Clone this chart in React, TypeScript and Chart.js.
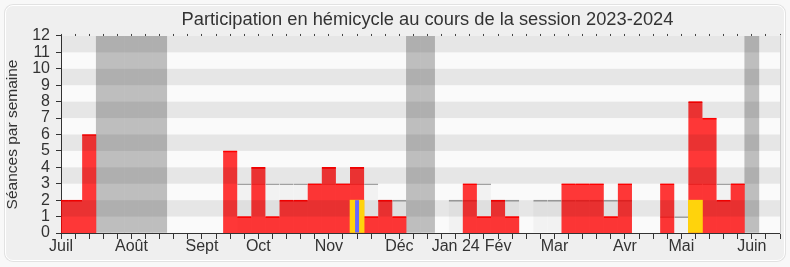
import React, { useEffect, useRef } from 'react';
import { Chart, registerables } from 'chart.js';

Chart.register(...registerables);

// ---- Data (52 weeks, July 2023 -> June 2024) ----
const monthLabels = ['Juil', 'Août', 'Sept', 'Oct', 'Nov', 'Déc', 'Jan 24', 'Fév', 'Mar', 'Avr', 'Mai', 'Juin'];
const monthWeekIndex = [0, 5, 10, 14, 19, 24, 28, 31, 35, 40, 44, 49];
const weekCount = 52;

// Séances en hémicycle par semaine (red)
const seancesHemicycle = [
  2, 2, 6, 0, 0, 0, 0, 0, 0, 0, 0, 0, 5, 1, 4, 1, 2, 2, 3, 4, 3, 4, 1, 2, 1, 0,
  0, 0, 0, 3, 1, 2, 1, 0, 0, 0, 3, 3, 3, 1, 3, 0, 0, 3, 0, 8, 7, 2, 3, 0, 0, 0,
];

// Médiane des députés (grey line)
const medianeDeputes = [
  null, null, null, null, null, null, null, null, null, null, null, null, null,
  3, 3, 3, 3, 3, 3, 3, 3, 3, 3, 2, 2, null, null, null,
  2, 2, 3, 2, 2, null, 2, 2, 2, 2, 2, 2, 2, null, null, 1, 1, 3, 3, 3, 3,
  null, null, null,
];

// Interventions (yellow)
const interventionWeeks = [21, 45];
const interventionValues = [2, 2];

// Questions orales (blue)
const questionWeeks = [21];
const questionValues = [2];

// Vacances parlementaires (grey columns)
const vacationWeeks = [3, 4, 5, 6, 7, 25, 26, 49];
const yMax = 12;

const FONT = '"Liberation Sans", Arial, sans-serif';
const TEXT = '#333333';

const weekLabels = Array.from({ length: weekCount }, (_, i) => {
  const k = monthWeekIndex.indexOf(i);
  return k >= 0 ? monthLabels[k] : '';
});

const sparse = (weeks: number[], values: number[]) =>
  weekLabels.map((_, i) => {
    const k = weeks.indexOf(i);
    return k >= 0 ? values[k] : null;
  });

const YELLOW_INDEX = 4;
const TITLE_CENTER_X = 427.5;

const bandsPlugin = {
  id: 'bands',
  afterLayout(chart: any) {
    const t = chart.titleBlock;
    if (t) {
      const d = TITLE_CENTER_X - (t.left + t.right) / 2;
      t.left += d;
      t.right += d;
    }
  },
  beforeDraw(chart: any) {
    const { ctx, chartArea: a } = chart;
    ctx.save();
    ctx.fillStyle = '#fafafa';
    ctx.fillRect(a.left, a.top, a.right - a.left, a.bottom - a.top);
    ctx.restore();
  },
  beforeDatasetDraw(chart: any, args: any) {
    if (args.index !== YELLOW_INDEX) return;
    const { ctx, chartArea: a } = chart;
    const y = chart.scales.y;
    ctx.save();
    ctx.fillStyle = 'rgba(0,0,0,0.08)';
    for (let v = 1; v < yMax; v += 2) {
      const top = y.getPixelForValue(v + 1);
      const bottom = y.getPixelForValue(v);
      ctx.fillRect(a.left, top, a.right - a.left, bottom - top);
    }
    ctx.restore();
  },
};

export default function App() {
  const ref = useRef<HTMLCanvasElement>(null);

  useEffect(() => {
    const barCommon = {
      type: 'bar' as const,
      grouped: false,
      barPercentage: 1,
      categoryPercentage: 1,
      clip: 0,
    };
    const chart = new Chart(ref.current!, {
      type: 'bar',
      data: {
        labels: weekLabels,
        datasets: [
          {
            ...barCommon,
            label: 'Vacances',
            data: weekLabels.map((_, i) => (vacationWeeks.includes(i) ? yMax : null)),
            backgroundColor: '#bebebe',
            borderWidth: 0,
            order: 6,
          },
          {
            ...barCommon,
            label: 'Médiane',
            data: medianeDeputes,
            backgroundColor: 'rgba(0,0,0,0.03)',
            borderColor: '#a4a4a4',
            borderWidth: { top: 1, left: 0, right: 0, bottom: 0 },
            order: 5,
          },
          {
            type: 'line',
            label: 'Présences',
            data: seancesHemicycle,
            stepped: 'middle',
            fill: 'origin',
            backgroundColor: 'rgba(255,0,0,0.78)',
            borderColor: 'rgba(0,0,0,0)',
            borderWidth: 0,
            pointRadius: 0,
            order: 4,
            clip: 0,
          } as any,
          {
            ...barCommon,
            label: 'Présences (bord)',
            data: seancesHemicycle.map((v) => (v > 0 ? v : null)),
            backgroundColor: 'rgba(0,0,0,0)',
            borderColor: '#ff0000',
            borderWidth: { top: 1, left: 0, right: 0, bottom: 0 },
            order: 3,
          },
          {
            ...barCommon,
            label: 'Interventions',
            data: sparse(interventionWeeks, interventionValues),
            backgroundColor: '#ffd30c',
            borderWidth: 0,
            order: 2,
          },
          {
            ...barCommon,
            label: 'Questions',
            data: sparse(questionWeeks, questionValues),
            backgroundColor: '#6666ff',
            borderWidth: 0,
            barPercentage: 0.28,
            order: 1,
          },
        ] as any,
      },
      options: {
        responsive: false,
        devicePixelRatio: 1,
        animation: false,
        events: [],
        layout: { padding: { left: 0, right: 10, top: 0, bottom: 0 } },
        plugins: {
          legend: { display: false },
          tooltip: { enabled: false },
          title: {
            display: true,
            text: 'Participation en hémicycle au cours de la session 2023-2024',
            color: TEXT,
            font: { family: FONT, size: 18.3, weight: 'normal' },
            padding: { top: 9, bottom: 3.0 },
          },
        },
        scales: {
          x: {
            type: 'category',
            position: 'bottom',
            offset: false,
            grid: { drawOnChartArea: false, offset: false, tickLength: 6, color: '#333' },
            border: { color: '#333', width: 1 },
            ticks: {
              autoSkip: false,
              maxRotation: 0,
              minRotation: 0,
              padding: -2,
              color: TEXT,
              font: { family: FONT, size: 16 },
            },
            afterFit: (s: any) => {
              s.height = 34;
            },
          },
          x2: {
            type: 'category',
            position: 'top',
            offset: false,
            grid: { drawOnChartArea: false, offset: false, tickLength: 2, color: '#444' },
            border: { display: false },
            ticks: { display: false },
            afterFit: (s: any) => {
              s.height = 2;
            },
          },
          y: {
            min: 0,
            max: yMax,
            position: 'left',
            grid: { drawOnChartArea: false, tickLength: 5, color: '#333' },
            border: { color: '#333', width: 1 },
            ticks: {
              stepSize: 1,
              autoSkip: false,
              padding: 6,
              color: TEXT,
              font: { family: FONT, size: 16 },
            },
            title: {
              display: true,
              text: 'Séances par semaine',
              color: TEXT,
              font: { family: FONT, size: 15.5 },
              padding: { top: 3.6, bottom: 0 },
            },
            afterFit: (s: any) => {
              s.width = 61;
            },
          },
          y2: {
            min: 0,
            max: yMax,
            position: 'right',
            grid: { drawOnChartArea: false, drawTicks: false },
            border: { color: '#cfcfcf', width: 1 },
            ticks: { display: false },
            afterFit: (s: any) => {
              s.width = 0;
            },
          },
        },
      } as any,
      plugins: [bandsPlugin],
    });
    return () => chart.destroy();
  }, []);

  return (
    <div style={{ position: 'fixed', left: 0, top: 0, width: 790, height: 267, background: '#f8f8f8' }}>
      <div
        style={{
          position: 'absolute',
          left: 5,
          top: 5,
          width: 778,
          height: 254,
          background: '#efefef',
          border: '1px solid #ffffff',
          borderRadius: 8,
          boxShadow: '0 0 0 1px #e2e2e2',
        }}
      />
      <canvas
        ref={ref}
        width={790}
        height={267}
        style={{ position: 'absolute', left: 0, top: 0, width: 790, height: 267 }}
      />
    </div>
  );
}
